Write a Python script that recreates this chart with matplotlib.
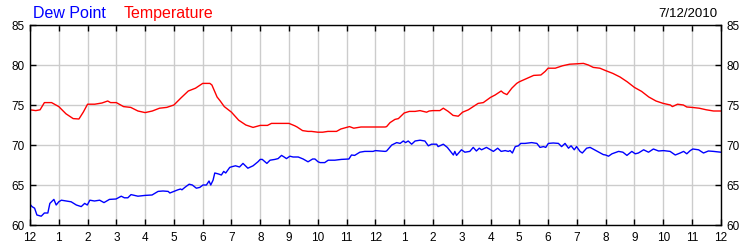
"""
Dew point / temperature for one day (7/12/2010), hourly grid, twin y labels.
"""

import matplotlib
matplotlib.use("Agg")
import matplotlib.pyplot as plt

plt.rcParams['font.family'] = ['Liberation Sans', 'DejaVu Sans']

# ---- data (hours since midnight, deg F) ----
temp_t = [0, 0.2, 0.35, 0.5, 0.75, 1.0, 1.25, 1.5, 1.7, 1.85, 2.0, 2.25, 2.5, 2.7, 2.8,
          3.0, 3.25, 3.5, 3.75, 4.0, 4.25, 4.5, 4.75, 5.0, 5.25, 5.5, 5.75, 6.0, 6.25,
          6.32, 6.5, 6.61, 6.75, 7.0, 7.25, 7.5, 7.75, 8.0, 8.25, 8.39, 8.6, 8.8, 9.0,
          9.2, 9.28, 9.47, 9.66, 9.78, 10.0, 10.17, 10.35, 10.65, 10.8, 11.0, 11.1,
          11.25, 11.5, 12.0, 12.34, 12.39, 12.51, 12.68, 12.8, 13.0, 13.18, 13.38,
          13.55, 13.78, 13.87, 14.0, 14.24, 14.36, 14.53, 14.7, 14.88, 15.03, 15.23,
          15.4, 15.57, 15.75, 16.0, 16.16, 16.37, 16.45, 16.57, 16.74, 16.91, 17.0,
          17.25, 17.5, 17.75, 17.9, 18.0, 18.25, 18.5, 18.75, 19.0, 19.23, 19.4,
          19.57, 19.8, 20.0, 20.25, 20.5, 20.75, 21.0, 21.25, 21.5, 21.75, 22.0,
          22.25, 22.32, 22.5, 22.7, 22.82, 23.0, 23.25, 23.5, 23.75, 24.0]
temp_v = [74.4, 74.3, 74.4, 75.3, 75.3, 74.8, 73.9, 73.3, 73.25, 74.1, 75.1, 75.1, 75.25,
          75.5, 75.3, 75.3, 74.8, 74.7, 74.25, 74.05, 74.25, 74.6, 74.7, 75.0, 75.9,
          76.75, 77.1, 77.7, 77.7, 77.5, 76.0, 75.5, 74.8, 74.1, 73.1, 72.5, 72.2,
          72.45, 72.45, 72.7, 72.7, 72.7, 72.7, 72.4, 72.25, 71.8, 71.7, 71.7, 71.6,
          71.6, 71.7, 71.7, 72.0, 72.2, 72.3, 72.1, 72.25, 72.25, 72.25, 72.3, 72.8,
          73.2, 73.3, 74.0, 74.2, 74.2, 74.3, 74.1, 74.25, 74.3, 74.3, 74.6, 74.2,
          73.7, 73.6, 74.1, 74.4, 74.8, 75.2, 75.3, 75.95, 76.25, 76.75, 76.5, 76.3,
          77.1, 77.7, 77.9, 78.3, 78.7, 78.75, 79.2, 79.6, 79.6, 79.9, 80.1, 80.15,
          80.2, 80.0, 79.7, 79.6, 79.3, 78.95, 78.5, 77.9, 77.2, 76.7, 76.0, 75.5,
          75.2, 75.0, 74.8, 75.1, 75.0, 74.75, 74.7, 74.6, 74.4, 74.25, 74.25]

dew_t = [0, 0.07, 0.16, 0.24, 0.39, 0.5, 0.62, 0.69, 0.83, 0.91, 1.0, 1.09, 1.25, 1.43,
         1.61, 1.78, 1.9, 1.99, 2.08, 2.24, 2.42, 2.57, 2.76, 2.99, 3.17, 3.28, 3.4,
         3.51, 3.75, 4.0, 4.24, 4.45, 4.62, 4.8, 4.86, 5.0, 5.14, 5.23, 5.28, 5.38,
         5.53, 5.64, 5.78, 5.9, 6.01, 6.13, 6.22, 6.28, 6.36, 6.42, 6.53, 6.65, 6.73,
         6.8, 6.94, 7.03, 7.14, 7.28, 7.4, 7.57, 7.75, 7.92,
         8.0, 8.07, 8.23, 8.34, 8.51, 8.62, 8.74, 8.83, 8.91, 9.03, 9.14, 9.32, 9.49,
         9.66, 9.82, 9.9, 10.01, 10.08, 10.24, 10.36, 10.59, 10.82, 11.08, 11.17,
         11.28, 11.46, 11.63, 11.8, 11.92, 12.0,
         12.34, 12.39, 12.57, 12.74, 12.86, 12.97, 13.05, 13.14, 13.26, 13.38, 13.55,
         13.72, 13.84, 13.95, 14.13, 14.18, 14.36, 14.5, 14.71, 14.76, 14.82, 14.99,
         15.11, 15.28, 15.4, 15.51, 15.61, 15.69, 15.86, 16.0,
         16.1, 16.25, 16.37, 16.51, 16.62, 16.68, 16.76, 16.86, 16.97, 17.05, 17.2,
         17.43, 17.61, 17.72, 17.84, 17.92, 18.01, 18.18, 18.36, 18.47, 18.59, 18.71,
         18.8, 18.91, 18.99, 19.11, 19.19, 19.34, 19.46, 19.69, 19.92,
         20.0, 20.1, 20.22, 20.37, 20.45, 20.6, 20.74, 20.91, 21.03, 21.14, 21.32,
         21.49, 21.66, 21.84, 22.01, 22.24, 22.42, 22.59, 22.71, 22.82, 22.94, 23.03,
         23.23, 23.4, 23.57, 23.75, 24.0]
dew_v = [62.6, 62.3, 62.1, 61.25, 61.1, 61.5, 61.5, 62.7, 63.2, 62.5, 62.9, 63.1, 63.0,
         62.9, 62.5, 62.3, 62.7, 62.5, 63.1, 63.0, 63.1, 62.8, 63.2, 63.25, 63.6, 63.4,
         63.4, 63.8, 63.6, 63.7, 63.75, 64.2, 64.25, 64.2, 64.0, 64.2, 64.4, 64.5, 64.4,
         64.7, 65.1, 65.0, 64.6, 64.7, 65.0, 65.0, 65.5, 65.0, 65.6, 66.5, 66.4, 66.25,
         66.7, 66.5, 67.2, 67.3, 67.4, 67.25, 67.7, 67.1, 67.4, 67.9,
         68.2, 68.2, 67.7, 68.1, 68.2, 68.3, 68.7, 68.5, 68.3, 68.6, 68.5, 68.5, 68.25,
         67.9, 68.25, 68.25, 67.9, 67.8, 67.8, 68.1, 68.1, 68.2, 68.25, 68.75, 68.7,
         69.1, 69.2, 69.2, 69.2, 69.3,
         69.2, 69.25, 70.0, 70.3, 70.2, 70.5, 70.3, 70.5, 70.1, 70.5, 70.6, 70.5, 69.9,
         70.1, 70.1, 69.8, 70.1, 69.7, 68.75, 69.2, 68.7, 69.4, 69.1, 69.2, 69.7, 69.25,
         69.6, 69.4, 69.7, 69.4,
         69.2, 69.6, 69.2, 69.3, 69.2, 69.3, 69.0, 69.8, 69.9, 70.2, 70.2, 70.3, 70.2,
         69.7, 69.8, 69.7, 70.2, 70.25, 70.2, 69.8, 70.2, 69.6, 69.9, 69.4, 69.8, 69.2,
         69.0, 69.6, 69.7, 69.25, 68.8,
         68.75, 68.6, 68.9, 69.1, 69.2, 69.1, 68.7, 69.2, 68.9, 69.0, 69.4, 69.1, 69.5,
         69.25, 69.3, 69.2, 68.75, 69.0, 69.2, 68.9, 69.3, 69.5, 69.4, 69.0, 69.25,
         69.2, 69.1]

hour_labels = ['12'] + [str(h) for h in range(1, 12)] + ['12'] + [str(h) for h in range(1, 12)] + ['12']
y_ticks = [60, 65, 70, 75, 80, 85]

fig = plt.figure(figsize=(7.5, 2.5), dpi=100)
ax = fig.add_axes([0.04, 0.1, 0.921, 0.8])

ax.plot(dew_t, dew_v, color='#0000ff', lw=1.0)
ax.plot(temp_t, temp_v, color='#ff0000', lw=1.0)

ax.set_xlim(0, 24)
ax.set_ylim(60, 85)
ax.set_xticks(range(25))
ax.set_xticklabels(hour_labels)
ax.set_yticks(y_ticks)
ax.grid(True, color='#cccccc', lw=1.0)
ax.set_axisbelow(True)

ax.tick_params(axis='both', direction='in', length=4, width=1, color='black',
               labelsize=8.5, top=True, right=True, labelright=True)
ax.tick_params(axis='x', pad=5)
ax.tick_params(axis='y', pad=4)
for s in ax.spines.values():
    s.set_color('black')
    s.set_linewidth(1.0)

fig.text(0.044, 0.928, 'Dew Point', color='#0000ff', fontsize=11.5, va='baseline')
fig.text(0.165, 0.928, 'Temperature', color='#ff0000', fontsize=11.5, va='baseline')
fig.text(0.957, 0.932, '7/12/2010', color='black', fontsize=9.5, ha='right', va='baseline')

fig.savefig('out.png', dpi=100)
